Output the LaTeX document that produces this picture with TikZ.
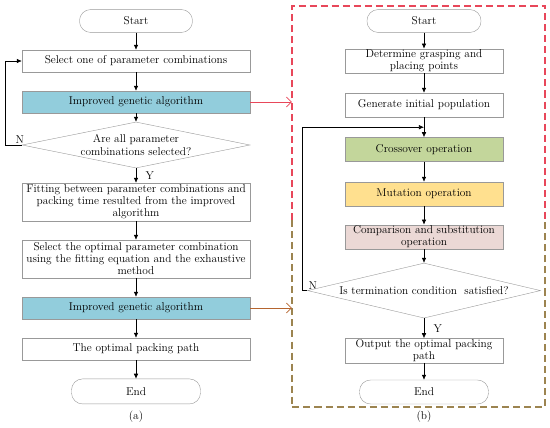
\documentclass[tikz,border=0pt]{standalone}
\usepackage{fontspec}
\usepackage{tikz}
\usetikzlibrary{arrows.meta,calc,shapes.geometric}

\definecolor{gablue}{HTML}{92CDDC}
\definecolor{crossgreen}{HTML}{C3D69B}
\definecolor{mutyellow}{HTML}{FFE08F}
\definecolor{comppink}{HTML}{EBD8D5}
\definecolor{framered}{HTML}{E8475A}
\definecolor{framebrown}{HTML}{9C8450}
\definecolor{linkbrown}{HTML}{B5652F}

\begin{document}
\begin{tikzpicture}[>={Latex[length=5pt,width=4.5pt]},
  every node/.style={font=\fontsize{11.3}{12}\selectfont},
  box/.style={draw=gray!80, align=center, inner xsep=0pt, inner ysep=1pt},
  lbox/.style={box, minimum width=7.98cm, text width=7.98cm, minimum height=0.77cm},
  rbox/.style={box, minimum width=5.53cm, text width=5.53cm, minimum height=0.84cm},
  term/.style={draw=gray!80, rounded corners=11pt, minimum height=0.8cm},
  decide/.style={draw=gray!80, diamond, aspect=5, inner sep=0pt, align=center},
  flow/.style={->, semithick},
  framedash/.style={line width=1.5pt, dash pattern=on 7pt off 4pt}]

  \useasboundingbox (0,0) rectangle (19.25,-14.945);

  % =========================
  % (a) parameter selection
  % =========================
  \node[term, minimum width=3.955cm] (starta) at (4.76,-0.735) {Start};
  \node[lbox] (sel) at (4.76,-2.135) {Select one of parameter combinations};
  \node[lbox, fill=gablue] (igaa) at (4.76,-3.57) {Improved genetic algorithm};
  \node[decide, minimum width=7.98cm, minimum height=1.61cm] (deca) at (4.76,-5.075)
    {Are all parameter\\combinations selected?};
  \node[lbox, minimum height=1.33cm] (fit) at (4.76,-7.07)
    {Fitting between parameter combinations and\\
     packing time resulted from the improved\\
     algorithm};
  \node[lbox, minimum height=1.33cm] (optsel) at (4.76,-9.065)
    {Select the optimal parameter combination\\
     using the fitting equation and the exhaustive\\
     method};
  \node[lbox, fill=gablue] (igab) at (4.76,-10.78) {Improved genetic algorithm};
  \node[lbox] (patha) at (4.76,-12.215) {The optimal packing path};
  \node[term, minimum width=4.515cm, minimum height=0.875cm] (enda) at (4.76,-13.7) {End};
  \node (capa) at (4.76,-14.6) {(a)};

  \draw[flow] (starta) -- (sel);
  \draw[flow] (sel) -- (igaa);
  \draw[flow] (igaa) -- (deca);
  \draw[flow] (deca) -- node[right=6pt] {Y} (fit);
  \draw[flow] (deca.west) -- node[above, pos=0.12, inner sep=1pt] {N} ++(-0.56,0) |- (sel.west);
  \draw[flow] (fit) -- (optsel);
  \draw[flow] (optsel) -- (igab);
  \draw[flow] (igab) -- (patha);
  \draw[flow] (patha) -- (enda);

  % =========================
  % (b) improved genetic algorithm
  % =========================
  \node[minimum width=8.855cm, minimum height=14.035cm, inner sep=0pt] (gaframe) at (14.6475,-7.2275) {};
  \coordinate (split) at (0,-7.7);
  \draw[framedash, color=framered]
    (gaframe.west |- split) -- (gaframe.north west) -- (gaframe.north east) -- (gaframe.east |- split);
  \draw[framedash, color=framebrown]
    (gaframe.west |- split) -- (gaframe.south west) -- (gaframe.south east) -- (gaframe.east |- split);

  \node[term, minimum width=3.99cm] (startb) at (14.84,-0.735) {Start};
  \node[rbox] (grasp) at (14.84,-2.135) {Determine grasping and\\placing points};
  \node[rbox] (init) at (14.84,-3.675) {Generate initial population};
  \node[rbox, fill=crossgreen] (cross) at (14.84,-5.23) {Crossover operation};
  \node[rbox, fill=mutyellow] (mut) at (14.84,-6.79) {Mutation operation};
  \node[rbox, fill=comppink] (comp) at (14.84,-8.295) {Comparison and substitution\\operation};
  \node[decide, minimum width=8.155cm, minimum height=1.925cm] (decb) at (14.84,-10.17)
    {Is termination condition\ \ satisfied?};
  \node[rbox] (outb) at (14.84,-12.27) {Output the optimal packing\\path};
  \node[term, minimum width=4.515cm, minimum height=0.84cm] (endb) at (14.84,-13.72) {End};
  \node (capb) at (14.84,-14.6) {(b)};
  \coordinate (join) at ($(init.south)!0.5!(cross.north)$);

  \draw[flow] (startb) -- (grasp);
  \draw[flow] (grasp) -- (init);
  \draw[flow] (init) -- (cross);
  \draw[flow] (cross) -- (mut);
  \draw[flow] (mut) -- (comp);
  \draw[flow] (comp) -- (decb);
  \draw[flow] (decb) -- node[right=6pt] {Y} (outb);
  \draw[flow] (outb) -- (endb);
  \draw[flow] (decb.west) node[above right, inner sep=1pt] {N} -- ++(-0.175,0) |- (join);

  % links to (b)
  \draw[framered, semithick, -{Straight Barb[length=5pt]}] (igaa.east) -- (igaa.east -| gaframe.west);
  \draw[linkbrown, semithick, -{Straight Barb[length=5pt]}] (igab.east) -- (igab.east -| gaframe.west);

\end{tikzpicture}
\end{document}
